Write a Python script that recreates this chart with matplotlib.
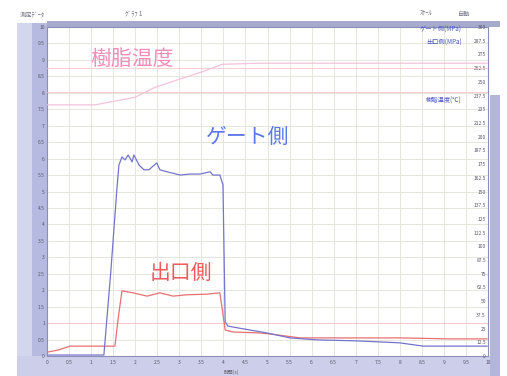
import matplotlib.pyplot as plt
import numpy as np
from matplotlib.patches import Rectangle

plt.rcParams['font.family'] = ['Noto Sans CJK JP', 'DejaVu Sans']

# time axis (s)
time_ticks = np.arange(0, 10.01, 0.5)
left_ticks = np.arange(0, 10.01, 0.5)
right_ticks = np.arange(0, 300.01, 12.5)

# gate side pressure
t_gate = [0.02, 0.75, 1.29, 1.45, 1.59, 1.63, 1.70, 1.77, 1.84, 1.93, 1.97, 2.09, 2.20, 2.31,
          2.49, 2.56, 2.72, 3.02, 3.24, 3.47, 3.70, 3.76, 3.92, 3.99, 4.04, 4.10, 4.22, 4.60,
          4.99, 5.51, 6.12, 7.03, 8.00, 8.53, 9.98]
p_gate = [0.03, 0.03, 0.03, 2.62, 5.17, 5.80, 6.05, 5.96, 6.11, 5.90, 6.11, 5.80, 5.66, 5.66,
          5.87, 5.66, 5.60, 5.50, 5.53, 5.53, 5.60, 5.50, 5.50, 5.20, 1.04, 0.91, 0.88, 0.79,
          0.70, 0.55, 0.49, 0.46, 0.40, 0.30, 0.30]

# outlet side pressure
t_out = [0.02, 0.25, 0.52, 1.20, 1.54, 1.61, 1.70, 1.95, 2.27, 2.56, 2.86, 3.17, 3.63, 3.92,
         3.97, 4.04, 4.22, 4.83, 5.06, 5.74, 8.00, 9.14, 9.98]
p_out = [0.12, 0.18, 0.30, 0.30, 0.30, 1.10, 1.98, 1.92, 1.82, 1.92, 1.82, 1.86, 1.88, 1.92,
         1.46, 0.79, 0.73, 0.70, 0.67, 0.55, 0.55, 0.52, 0.52]

# resin temperature
t_temp = [0.0, 1.09, 2.0, 2.45, 2.97, 3.51, 3.97, 4.83, 9.98]
v_temp = [229, 229, 236, 245, 252, 259, 266, 267, 267]

# limit lines
temp_limits = [263, 241]
press_limit = 1.0

fig = plt.figure(figsize=(5.07, 3.76), dpi=100)
W, H = 507, 376

def box(x0, y0, x1, y1, color):
    fig.patches.append(Rectangle((x0 / W, 1 - y1 / H), (x1 - x0) / W, (y1 - y0) / H,
                                 transform=fig.transFigure, color=color, zorder=-1, lw=0))

box(17, 23, 32, 376, '#d4d6ee')
box(32, 23, 47, 376, '#b6bae0')
box(17, 356, 490, 376, '#cdcfea')
box(47, 21, 500, 27, '#a6aacc')
box(490, 95, 500, 376, '#b2b6da')

ax = fig.add_axes([47 / W, 1 - 356 / H, (488 - 47) / W, (356 - 27) / H])
ax.set_xlim(0, 10)
ax.set_ylim(0, 10)
ax.set_xticks(time_ticks)
ax.set_xticklabels([f'{v:g}' for v in time_ticks])
ax.set_yticks(left_ticks)
ax.set_yticklabels([f'{v:g}' for v in left_ticks])
ax.tick_params(length=0, labelsize=3.5, labelcolor='#555566')
ax.tick_params(axis='x', pad=3)
ax.tick_params(axis='y', pad=1.5)
ax.grid(True, color='#e6e6dc', lw=0.7)
ax.set_axisbelow(True)
for s in ax.spines.values():
    s.set_color('#8a8eb8')
    s.set_linewidth(0.8)

ax.axhline(press_limit, color='#f6c4c4', lw=0.6)
ax.plot(t_out, p_out, color='#e87070', lw=0.9)
ax.plot(t_gate, p_gate, color='#7474cc', lw=0.9)

ax2 = ax.twinx()
ax2.set_ylim(0, 300)
ax2.set_yticks(right_ticks)
ax2.set_yticklabels([f'{v:g}' for v in right_ticks])
ax2.tick_params(length=0, labelsize=3.5, labelcolor='#555566', pad=-1.5)
for lbl in ax2.get_yticklabels():
    lbl.set_horizontalalignment('right')
for s in ax2.spines.values():
    s.set_visible(False)
for y in temp_limits:
    ax2.axhline(y, color='#f6c8c8', lw=0.6)
ax2.plot(t_temp, v_temp, color='#f4c2da', lw=0.9)

ax.text(1.93, 9.03, '樹脂温度', color='#f48cb8', fontsize=15, ha='center', va='center')
ax.text(4.54, 6.66, 'ゲート側', color='#5a78e6', fontsize=15, ha='center', va='center')
ax.text(3.04, 2.52, '出口側', color='#f05a5a', fontsize=15, ha='center', va='center')

fig.text(462 / W, 1 - 30 / H, 'ゲート側(MPa)', color='#4a58c0', fontsize=4.5, ha='right', va='center')
fig.text(462 / W, 1 - 43 / H, '出口側(MPa)', color='#4a58c0', fontsize=4.5, ha='right', va='center')
fig.text(462 / W, 1 - 101 / H, '樹脂温度(℃)', color='#4a58c0', fontsize=4.5, ha='right', va='center')

fig.text(20 / W, 1 - 15 / H, '測定ﾃﾞｰﾀ', color='#707080', fontsize=4.5, va='center')
fig.text(125 / W, 1 - 14 / H, 'ｸﾞﾗﾌ 1', color='#707080', fontsize=4.5, va='center')
fig.text(420 / W, 1 - 14 / H, 'ｽｹｰﾙ', color='#707080', fontsize=4.5, va='center')
fig.text(458 / W, 1 - 14 / H, '自動', color='#707080', fontsize=4.5, va='center')
fig.text(231 / W, 1 - 372 / H, '時間(s)', color='#606070', fontsize=3.5, ha='center', va='center')

fig.savefig('out.png', dpi=100)
